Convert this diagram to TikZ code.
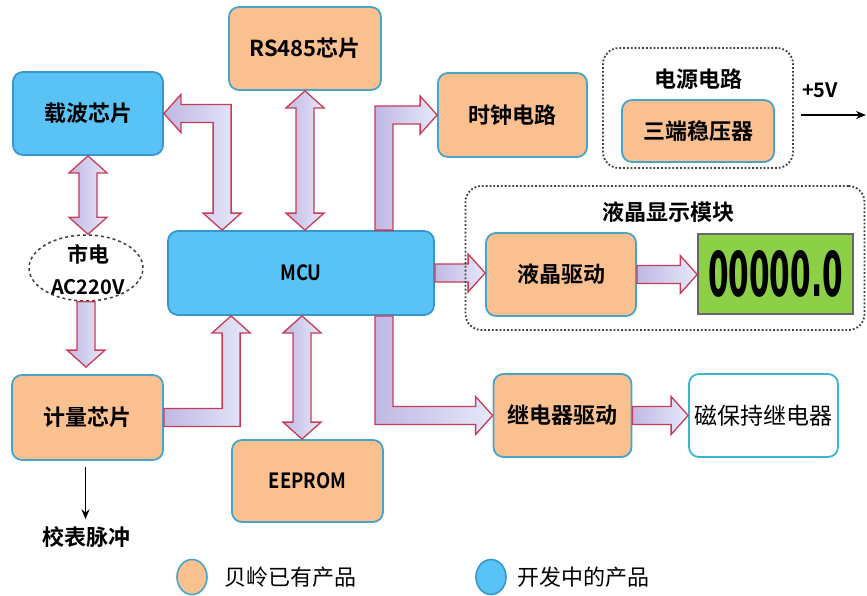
\documentclass[tikz,border=0pt]{standalone}
\usepackage{fontspec}
\setmainfont{Noto Sans CJK SC}[BoldFont={Noto Sans CJK SC Bold}]
\newfontfamily\lcdfont{DejaVu Sans}
\usetikzlibrary{calc,arrows.meta,shapes.geometric}
\definecolor{orangef}{RGB}{250,192,144}
\definecolor{bluef}{RGB}{90,195,245}
\definecolor{boxedge}{RGB}{70,165,200}
\definecolor{blueedge}{RGB}{55,150,205}
\definecolor{lcdgreen}{RGB}{140,208,72}
\definecolor{arrowedge}{RGB}{200,60,85}
\definecolor{arrowA}{RGB}{192,184,228}
\definecolor{arrowB}{RGB}{230,232,250}
\def\aw{9pt}
\def\ah{19pt}
\def\al{17pt}
% vertical double arrow, #1 top tip, #2 bottom tip
\newcommand\vdbl[2]{\path[fatarrow] let \p1=(#1), \p2=(#2) in
 (\x1,\y1) -- ({\x1+\ah},{\y1-\al}) -- ({\x1+\aw},{\y1-\al}) -- ({\x1+\aw},{\y2+\al})
 -- ({\x1+\ah},{\y2+\al}) -- (\x1,\y2) -- ({\x1-\ah},{\y2+\al}) -- ({\x1-\aw},{\y2+\al})
 -- ({\x1-\aw},{\y1-\al}) -- ({\x1-\ah},{\y1-\al}) -- cycle;}
% vertical single arrow downwards, #1 tail, #2 tip
\newcommand\vsgl[2]{\path[fatarrow] let \p1=(#1), \p2=(#2) in
 ({\x1-\aw},\y1) -- ({\x1+\aw},\y1) -- ({\x1+\aw},{\y2+\al}) -- ({\x1+\ah},{\y2+\al})
 -- (\x1,\y2) -- ({\x1-\ah},{\y2+\al}) -- ({\x1-\aw},{\y2+\al}) -- cycle;}
% horizontal single arrow to the right
\newcommand\hsgl[2]{\path[fatarrow] let \p1=(#1), \p2=(#2) in
 (\x1,{\y1+\aw}) -- ({\x2-\al},{\y1+\aw}) -- ({\x2-\al},{\y1+\ah}) -- (\x2,\y1)
 -- ({\x2-\al},{\y1-\ah}) -- ({\x2-\al},{\y1-\aw}) -- (\x1,{\y1-\aw}) -- cycle;}
% elbow: tip left at #1, tip down at #2
\newcommand\elbLD[2]{\path[fatarrow] let \p1=(#1), \p2=(#2) in
 (\x1,\y1) -- ({\x1+\al},{\y1+\ah}) -- ({\x1+\al},{\y1+\aw}) -- ({\x2+\aw},{\y1+\aw})
 -- ({\x2+\aw},{\y2+\al}) -- ({\x2+\ah},{\y2+\al}) -- (\x2,\y2) -- ({\x2-\ah},{\y2+\al})
 -- ({\x2-\aw},{\y2+\al}) -- ({\x2-\aw},{\y1-\aw}) -- ({\x1+\al},{\y1-\aw}) -- ({\x1+\al},{\y1-\ah}) -- cycle;}
% elbow: tail bottom #1, up then right to tip #2
\newcommand\elbUR[2]{\path[fatarrow] let \p1=(#1), \p2=(#2) in
 ({\x1-\aw},\y1) -- ({\x1-\aw},{\y2+\aw}) -- ({\x2-\al},{\y2+\aw}) -- ({\x2-\al},{\y2+\ah})
 -- (\x2,\y2) -- ({\x2-\al},{\y2-\ah}) -- ({\x2-\al},{\y2-\aw}) -- ({\x1+\aw},{\y2-\aw}) -- ({\x1+\aw},\y1) -- cycle;}
% elbow: tail left #1, right then up to tip #2
\newcommand\elbRU[2]{\path[fatarrow] let \p1=(#1), \p2=(#2) in
 (\x1,{\y1+\aw}) -- ({\x2-\aw},{\y1+\aw}) -- ({\x2-\aw},{\y2-\al}) -- ({\x2-\ah},{\y2-\al})
 -- (\x2,\y2) -- ({\x2+\ah},{\y2-\al}) -- ({\x2+\aw},{\y2-\al}) -- ({\x2+\aw},{\y1-\aw}) -- (\x1,{\y1-\aw}) -- cycle;}
% elbow: tail top #1, down then right to tip #2
\newcommand\elbDR[2]{\path[fatarrow] let \p1=(#1), \p2=(#2) in
 ({\x1-\aw},\y1) -- ({\x1-\aw},{\y2-\aw}) -- ({\x2-\al},{\y2-\aw}) -- ({\x2-\al},{\y2-\ah})
 -- (\x2,\y2) -- ({\x2-\al},{\y2+\ah}) -- ({\x2-\al},{\y2+\aw}) -- ({\x1+\aw},{\y2+\aw}) -- ({\x1+\aw},\y1) -- cycle;}
\begin{document}
\begin{tikzpicture}[x=1pt,y=-1pt,
  box/.style={draw=boxedge, line width=1.8pt, rounded corners=10pt, inner sep=0pt,
    font=\fontsize{22}{26}\selectfont\bfseries, text=black},
  obox/.style={box, fill=orangef},
  bbox/.style={box, fill=bluef, draw=blueedge},
  dotbox/.style={draw=black!75, line width=1.8pt, dotted, rounded corners=16pt, inner sep=0pt},
  fatarrow/.style={draw=arrowedge, line width=1.3pt, left color=arrowA, right color=arrowB},
  lbl/.style={font=\fontsize{22}{26}\selectfont\bfseries, inner sep=0pt},
  blk/.style={line width=1.6pt, -{Stealth[length=10pt,width=8pt]}},
  latin/.style={font=\fontsize{21}{24}\selectfont\bfseries}]
\useasboundingbox (0,0) rectangle (867,595);
\fill[white] (0,0) rectangle (867,595);

% boxes
\node[bbox, minimum width=150, minimum height=83] (zb) at (88,113.5) {载波芯片};
\node[obox, minimum width=152, minimum height=83] (rs) at (305,48.5) {RS485芯片};
\node[obox, minimum width=149, minimum height=84] (clk) at (512.5,115) {时钟电路};
\node[obox, minimum width=152, minimum height=62] (reg) at (698,131) {三端稳压器};
\node[obox, minimum width=150, minimum height=83] (lcdd) at (561,274.5) {液晶驱动};
\node[draw=black!60, line width=1.6pt, fill=lcdgreen, minimum width=155, minimum height=80, inner sep=0pt] (lcd) at (775.5,274)
  {\lcdfont\bfseries\fontsize{40}{40}\selectfont\scalebox{0.74}[1.55]{00000.0}};
\node[bbox, minimum width=266, minimum height=84, latin] (mcu) at (301,273) {\scalebox{0.88}[1]{MCU}};
\node[draw=black!75, line width=1.5pt, dashed, ellipse, minimum width=114, minimum height=66, inner sep=0pt] (mains) at (86,268) {};
\node[lbl, font=\fontsize{21}{25}\selectfont\bfseries] (mainsA) at (88,254) {市电};
\node[lbl, font=\fontsize{20}{24}\selectfont\bfseries] (mainsB) at (88,287) {AC220V};
\node[obox, minimum width=151, minimum height=85] (jl) at (87.5,417.5) {计量芯片};
\node[obox, minimum width=151, minimum height=82, latin] (ee) at (307.5,481) {\scalebox{0.88}[1]{EEPROM}};
\node[obox, minimum width=138, minimum height=83] (relay) at (562.5,415.5) {继电器驱动};
\node[box, fill=white, draw=boxedge!80!cyan, minimum width=149, minimum height=83, font=\fontsize{23}{26}\selectfont] (mrelay) at (763.5,415.5) {磁保持继电器};

% fat arrows
\vdbl{zb.south}{mains.north}
\vsgl{mains.south}{$(jl.north)+(0,-7)$}
\elbLD{zb.east}{$(mcu.north west)+(55,0)$}
\vdbl{rs.south}{mcu.north}
\elbUR{$(mcu.north east)+(-51,0)$}{clk.west}
\hsgl{mcu.east}{lcdd.west}
\hsgl{lcdd.east}{lcd.west}
\elbRU{jl.east}{$(mcu.south west)+(64,0)$}
\vdbl{$(mcu.south)+(1,0)$}{ee.north}
\elbDR{$(mcu.south east)+(-51,0)$}{relay.west}
\hsgl{relay.east}{mrelay.west}

% dotted groups
\node[dotbox, minimum width=190, minimum height=120] (pwr) at (698,108) {};
\node[lbl] (pwrt) at (698,79) {电源电路};
\node[dotbox, minimum width=399, minimum height=144] (lcdgrp) at (665,258) {};
\node[lbl] (lcdt) at (668,212) {液晶显示模块};

% +5V output
\node[font=\fontsize{20}{24}\selectfont\bfseries, inner sep=0pt] (v5) at (820,90) {+5V};
\coordinate (v5end) at (866,115);
\draw[blk] ($(pwr.east)+(7,7)$) -- (v5end);

% calibration pulse
\node[lbl] (pulse) at (86,537) {校表脉冲};
\coordinate (pa) at ($(jl.south)+(-2,6)$);
\draw[blk, shorten >=7pt] (pa) -- (pa |- pulse.north);

% legend
\node[draw=boxedge, line width=1.6pt, fill=orangef, ellipse, minimum width=30, minimum height=35, inner sep=0pt] (lgo) at (192,577) {};
\node[anchor=west, font=\fontsize{22}{26}\selectfont, inner sep=0pt] (lgot) at (224,577) {贝岭已有产品};
\node[draw=blueedge, line width=1.6pt, fill=bluef, ellipse, minimum width=30, minimum height=35, inner sep=0pt] (lgb) at (491,577) {};
\node[anchor=west, font=\fontsize{22}{26}\selectfont, inner sep=0pt] (lgbt) at (517,577) {开发中的产品};
\end{tikzpicture}
\end{document}
